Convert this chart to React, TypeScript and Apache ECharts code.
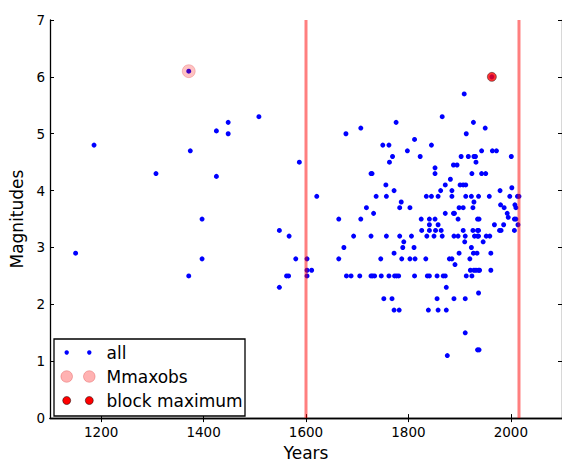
import React, { useEffect, useRef } from "react";
import * as echarts from "echarts";

// Earthquake catalogue: [year, magnitude]
const allPoints: [number, number][] = [
  [1150, 2.9], [1186, 4.8], [1307, 4.3], [1371, 6.1], [1371, 2.5], [1374, 4.7],
  [1397, 3.5], [1397, 2.8], [1425, 5.05], [1425, 4.25], [1448, 5.2], [1448, 5.0],
  [1508, 5.3], [1548, 3.3], [1548, 2.3], [1562, 2.5], [1566, 2.5], [1567, 3.2],
  [1580, 2.8], [1587, 4.5], [1602, 2.8], [1602, 2.6], [1602, 2.5], [1611, 2.6],
  [1621, 3.9],
  [1664, 3.5], [1664, 2.8], [1674, 3.0], [1678, 5.0], [1679, 2.5], [1688, 2.5],
  [1693, 3.2], [1705, 2.5], [1707, 5.1], [1707, 3.5], [1718, 3.7], [1727, 3.2],
  [1727, 4.3], [1729, 4.3], [1727, 2.5], [1730, 2.5], [1732, 3.6], [1734, 2.5],
  [1737, 3.9], [1746, 2.8], [1747, 2.5], [1750, 4.8], [1752, 2.1], [1756, 4.1],
  [1757, 3.9], [1757, 3.2], [1762, 4.8], [1762, 2.5], [1763, 4.5], [1768, 2.1],
  [1769, 4.6], [1772, 4.0], [1772, 2.9], [1772, 1.9], [1773, 2.5], [1776, 5.2],
  [1777, 2.5], [1781, 2.5], [1782, 1.9], [1783, 3.7], [1783, 3.2], [1786, 3.8],
  [1787, 2.8], [1789, 3.0], [1791, 3.1], [1798, 4.7], [1803, 3.7], [1803, 2.8],
  [1806, 3.2], [1812, 2.5], [1811, 3.0], [1812, 4.9], [1813, 2.8], [1823, 4.6],
  [1825, 3.5], [1826, 3.3],
  [1834, 2.8], [1835, 3.9], [1836, 3.2], [1837, 2.5], [1839, 1.9], [1841, 2.5],
  [1841, 3.3], [1841, 3.4], [1841, 3.5], [1845, 4.8], [1845, 3.9], [1850, 3.2],
  [1852, 4.4], [1852, 4.3], [1852, 3.5], [1853, 3.3], [1856, 2.5], [1856, 2.1],
  [1858, 3.9], [1858, 3.4], [1858, 1.9], [1863, 4.0], [1864, 3.3], [1866, 5.3],
  [1866, 3.2], [1868, 2.5], [1872, 4.1], [1872, 3.6], [1872, 2.5], [1874, 2.3],
  [1874, 1.9], [1876, 1.1], [1880, 2.8],
  [1882, 4.2], [1885, 4.0], [1885, 3.9], [1885, 2.8], [1888, 4.45], [1888, 3.6],
  [1889, 3.2], [1889, 2.1], [1890, 3.6], [1891, 2.7], [1895, 4.45], [1897, 3.5],
  [1897, 3.2], [1899, 3.7], [1899, 2.9], [1901, 4.1], [1903, 4.6], [1907, 4.1],
  [1907, 3.7], [1907, 3.3], [1909, 5.7], [1910, 3.1], [1911, 3.2], [1911, 2.1],
  [1911, 1.5], [1912, 4.1], [1912, 3.9], [1913, 5.0], [1913, 2.5], [1917, 4.6],
  [1920, 2.8], [1921, 2.6], [1923, 3.0], [1923, 3.9], [1924, 4.3], [1924, 2.5],
  [1926, 3.7], [1926, 3.3], [1927, 5.2], [1927, 2.9], [1928, 4.6], [1928, 3.8],
  [1928, 2.6], [1929, 3.2], [1931, 4.6], [1932, 4.5], [1932, 2.6], [1934, 2.9],
  [1935, 3.5], [1935, 3.3], [1935, 3.2], [1935, 1.2], [1937, 3.9], [1937, 3.3],
  [1937, 3.2], [1937, 2.6], [1937, 2.2], [1938, 3.5], [1938, 1.2], [1939, 2.6],
  [1943, 4.7], [1943, 4.3], [1946, 3.1], [1950, 5.1], [1951, 4.3], [1952, 3.2],
  [1958, 3.9], [1959, 3.2], [1961, 2.9], [1961, 2.6], [1963, 6.0], [1964, 4.7],
  [1968, 3.4], [1972, 4.7], [1978, 3.3], [1979, 4.0], [1980, 3.75], [1981, 3.3],
  [1986, 3.4], [1987, 3.7], [1993, 3.6], [1995, 3.53], [1998, 3.9], [2001, 4.6],
  [2002, 4.05], [2007, 3.3], [2007, 3.5], [2008, 3.75], [2010, 3.7], [2010, 3.5],
  [2013, 3.9], [2014, 3.4], [2016, 3.9],
];

const mmaxobsPoints: [number, number][] = [[1371, 6.1]];
const blockMaximumPoints: [number, number][] = [[1963, 6.0]];
const boundaryYears: number[] = [1600, 2016];

const xTickValues: number[] = [1200, 1400, 1600, 1800, 2000];
const legendLabels: string[] = ["all", "Mmaxobs", "block maximum"];

const FONT = "DejaVu Sans";

export default function App() {
  const ref = useRef<HTMLDivElement>(null);

  useEffect(() => {
    if (!ref.current) return;
    const chart = echarts.init(ref.current, undefined, { renderer: "svg" });

    const axisLine = { show: true, lineStyle: { color: "#000", width: 1.3 } };
    const tickIn = { show: true, inside: true, length: 4, lineStyle: { color: "#000", width: 1 } };

    const xCommon = {
      type: "value" as const,
      min: 1100,
      max: 2100,
      splitLine: { show: false },
      axisLine,
    };
    const yCommon = {
      type: "value" as const,
      min: 0,
      max: 7,
      interval: 1,
      splitLine: { show: false },
      axisLine,
    };

    const lineSeries = boundaryYears.map((yr, i) => ({
      name: "boundary" + i,
      type: "line",
      data: [[yr, 0], [yr, 7]],
      symbol: "none",
      silent: true,
      z: 5,
      lineStyle: { color: "rgba(255,0,0,0.5)", width: 3 },
    }));

    const legendRows = [
      { y: 352.5, kind: 0 },
      { y: 376.5, kind: 1 },
      { y: 400.5, kind: 2 },
    ];
    const markerXs = [66.7, 89.3];
    const legendElems: any[] = [
      {
        type: "rect",
        shape: { x: 54, y: 339, width: 191, height: 77 },
        style: { fill: "#fff", stroke: "#000", lineWidth: 1.3 },
        z: 100,
      },
    ];
    legendRows.forEach((row) => {
      markerXs.forEach((cx) => {
        if (row.kind === 0) {
          legendElems.push({
            type: "circle",
            shape: { cx, cy: row.y, r: 2.2 },
            style: { fill: "#0000ff" },
            z: 101,
          });
        } else if (row.kind === 1) {
          legendElems.push({
            type: "circle",
            shape: { cx, cy: row.y, r: 5.8 },
            style: { fill: "rgba(255,0,0,0.3)", stroke: "rgba(200,0,0,0.3)", lineWidth: 0.8 },
            z: 101,
          });
        } else {
          legendElems.push({
            type: "circle",
            shape: { cx, cy: row.y, r: 4 },
            style: { fill: "#ff0000", stroke: "#000", lineWidth: 0.5 },
            z: 101,
          });
        }
      });
      legendElems.push({
        type: "text",
        x: 106.5,
        y: row.y,
        style: {
          text: legendLabels[row.kind],
          fontFamily: FONT,
          fontSize: 17,
          fill: "#000",
          verticalAlign: "middle",
          align: "left",
        },
        z: 101,
      });
    });

    chart.setOption({
      animation: false,
      backgroundColor: "#fff",
      textStyle: { fontFamily: FONT },
      grid: { left: 47, top: 20, width: 518, height: 404, containLabel: false },
      xAxis: [
        {
          ...xCommon,
          position: "bottom",
          axisTick: { ...tickIn, customValues: xTickValues },
          axisLabel: {
            customValues: xTickValues,
            formatter: (v: number) => String(v),
            color: "#000",
            fontSize: 13.5,
            fontFamily: FONT,
            margin: 7,
          },
          name: "Years",
          nameLocation: "middle",
          nameGap: 24,
          nameTextStyle: { color: "#000", fontSize: 17, fontFamily: FONT },
        },
        {
          ...xCommon,
          position: "top",
          axisTick: { ...tickIn, customValues: xTickValues },
          axisLabel: { show: false },
        },
      ],
      yAxis: [
        {
          ...yCommon,
          position: "left",
          axisTick: tickIn,
          axisLabel: { color: "#000", fontSize: 13.5, fontFamily: FONT, margin: 5 },
          name: "Magnitudes",
          nameLocation: "middle",
          nameGap: 25,
          nameTextStyle: { color: "#000", fontSize: 17, fontFamily: FONT },
        },
        {
          ...yCommon,
          position: "right",
          axisTick: tickIn,
          axisLabel: { show: false },
        },
      ],
      series: [
        {
          name: "all",
          type: "scatter",
          data: allPoints,
          symbol: "circle",
          symbolSize: 5,
          itemStyle: { color: "#0000ff", opacity: 1 },
          z: 2,
        },
        {
          name: "Mmaxobs",
          type: "scatter",
          data: mmaxobsPoints,
          symbol: "circle",
          symbolSize: 13,
          itemStyle: { color: "rgba(255,0,0,0.3)", borderColor: "rgba(200,0,0,0.3)", borderWidth: 0.8 },
          z: 3,
        },
        {
          name: "block maximum",
          type: "scatter",
          data: blockMaximumPoints,
          symbol: "circle",
          symbolSize: 9,
          itemStyle: { color: "#ff0000", borderColor: "#000", borderWidth: 0.5 },
          z: 4,
        },
        ...lineSeries,
      ],
      graphic: legendElems,
    });

    return () => chart.dispose();
  }, []);

  return (
    <div
      ref={ref}
      style={{ position: "absolute", left: 0, top: 0, width: 562, height: 466 }}
    />
  );
}
